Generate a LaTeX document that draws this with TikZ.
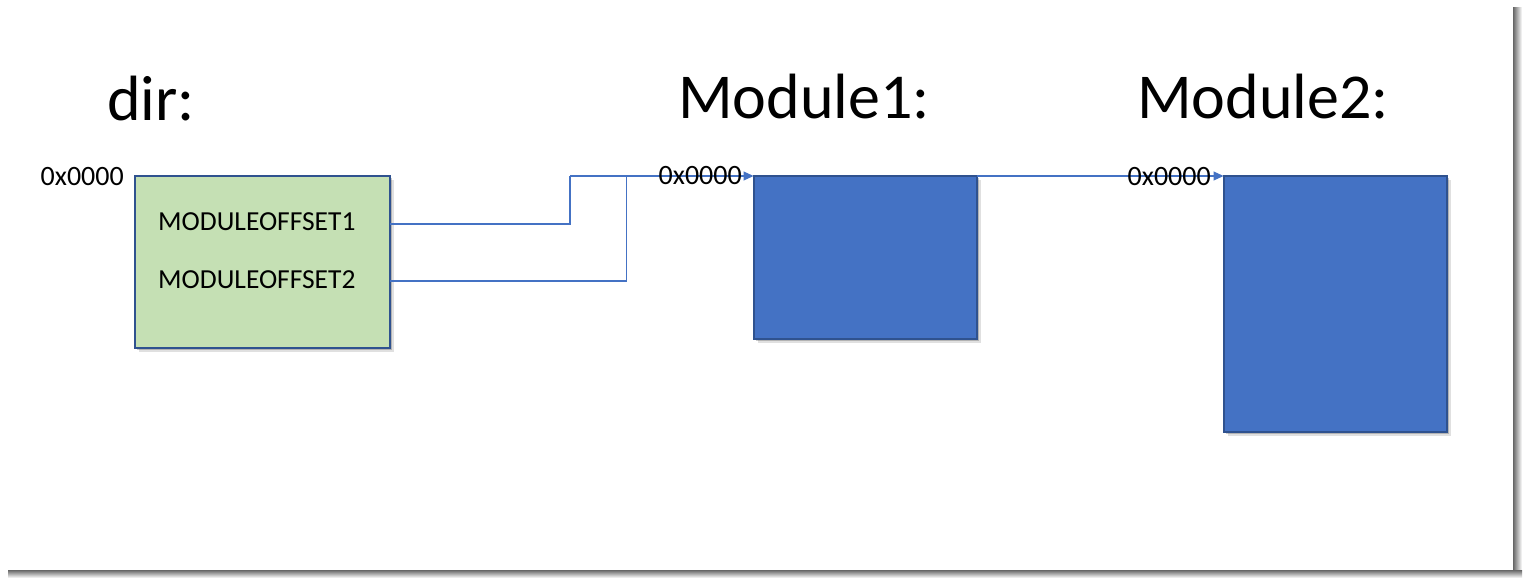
\documentclass[tikz,border=0pt]{standalone}
\usepackage{fontspec}
\setmainfont{Carlito}
\usetikzlibrary{arrows.meta,shadows}
\definecolor{boxgreen}{HTML}{C5E0B4}
\definecolor{boxblue}{HTML}{4472C4}
\definecolor{edgeblue}{HTML}{2F528F}
\definecolor{lineblue}{HTML}{4472C4}
\tikzset{
  memshadow/.style={general shadow={shadow xshift=2pt, shadow yshift=-2pt, fill=black, opacity=0.2},
                    general shadow={shadow xshift=4pt, shadow yshift=-4pt, fill=black, opacity=0.12}},
  greenbox/.style={draw=edgeblue, line width=2pt, fill=boxgreen, anchor=north west, outer sep=0pt, inner sep=0pt, memshadow},
  bluebox/.style={draw=edgeblue, line width=2pt, fill=boxblue, anchor=north west, outer sep=0pt, inner sep=0pt, memshadow},
  title/.style={font=\fontsize{64}{72}\selectfont, anchor=base west, inner sep=0pt},
  addr/.style={font=\fontsize{28}{32}\selectfont, anchor=base east, inner sep=0pt},
  field/.style={font=\fontsize{27.5}{32}\selectfont, anchor=base west, inner sep=0pt},
  conn/.style={draw=lineblue, line width=1.1pt},
  tip/.style={-{Triangle[length=10pt,width=9pt]}}
}
\begin{document}
\begin{tikzpicture}[x=1pt,y=-1pt]
\useasboundingbox (0,0) rectangle (1529,586);
% page and its shadow
\shade[left color=black!60, right color=white] (1513,8) rectangle (1522,578);
\shade[top color=black!60, bottom color=white] (8,570) rectangle (1522,578);
\fill[white] (0,0) rectangle (1513,570);

% titles
\node[title] (tdir) at (107,121) {dir:};
\node[title] (tm1) at (678,118) {Module1:};
\node[title] (tm2) at (1137,118) {Module2:};

% boxes
\node[greenbox, minimum width=255pt, minimum height=172pt] (dir) at (134.5,175.5) {};
\node[bluebox, minimum width=223pt, minimum height=163pt] (m1) at (753.5,176) {};
\node[bluebox, minimum width=223pt, minimum height=256pt] (m2) at (1223.5,176) {};

% fields
\node[field] (o1) at (158,230) {MODULEOFFSET1};
\node[field] (o2) at (158,288) {MODULEOFFSET2};

% connectors
\coordinate (j1) at (570,176);
\coordinate (j2) at (626.5,176);
\coordinate (s1) at (389.5,224);
\coordinate (s2) at (389.5,281);
\draw[conn] (s1) -| (j1);
\draw[conn] (s2) -| (j2);
\draw[conn, tip] (j1) -- (m1.north west);
\draw[conn, tip] (m1.north east) -- (m2.north west);

% addresses
\node[addr] (a0) at (124,185) {0x0000};
\node[addr] (a1) at (742,184) {0x0000};
\node[addr] (a2) at (1211,185) {0x0000};
\end{tikzpicture}
\end{document}
